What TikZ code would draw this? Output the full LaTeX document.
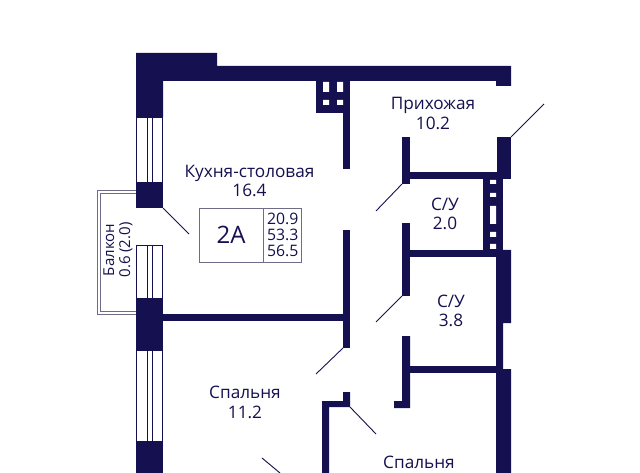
\documentclass[tikz,border=0pt]{standalone}
\usepackage{fontspec}
\usetikzlibrary{positioning}
\setmainfont{Open Sans}
\definecolor{navy}{HTML}{15104F}
\definecolor{frame}{HTML}{6E6C88}
\tikzset{
  wall/.style={fill=navy,draw=none},
  pane/.style={draw=navy,line width=0.9pt,fill=white},
  door/.style={draw=navy,line width=0.9pt},
  thin frame/.style={draw=frame,line width=0.7pt},
  room/.style={text=navy,font=\fontsize{17.2}{19.5}\selectfont,align=center,inner sep=0pt},
  data/.style={text=navy,font=\fontsize{15.8}{16}\selectfont,align=center,inner sep=0pt}
}
\begin{document}
\begin{tikzpicture}[x=1pt,y=-1pt]
    \useasboundingbox[fill=white] (0,0) rectangle (640,473);

    % balcony
    \draw[thin frame] (136,190) -- (97,190) -- (97,314) -- (136,314);
    \draw[thin frame] (136,193) -- (100.5,193) -- (100.5,311) -- (136,311);

    % windows
    \draw[pane] (136.5,117) rectangle (162.5,182);
    \draw[pane] (147.5,117) -- (147.5,182) (152,117) -- (152,182);
    \draw[pane] (136.5,245.5) rectangle (162.5,298);
    \draw[pane] (147.5,245.5) -- (147.5,298) (152,245.5) -- (152,298);
    \draw[pane] (136.5,350) rectangle (162.5,441);
    \draw[pane] (147.5,350) -- (147.5,441) (152,350) -- (152,441);

    % outer walls
    \fill[wall] (136,53) -- (217,53) -- (217,66) -- (511,66) -- (511,86) -- (496,86)
      -- (496,81) -- (163,81) -- (163,117) -- (136,117) -- cycle;
    \fill[wall] (136,182) rectangle (163,208);
    \fill[wall] (136,298) rectangle (163,351);
    \fill[wall] (136,441) rectangle (163,473);
    \fill[wall] (497,137) rectangle (511,179);
    \fill[wall] (496,250) -- (511,250) -- (511,323) -- (503,323) -- (503,369) -- (511,369)
      -- (511,473) -- (496,473) -- cycle;

    % inner walls
    \fill[wall] (316,81) rectangle (350,113);
    \fill[wall] (343,113) rectangle (350,169);
    \fill[white] (323,82) rectangle (329,92) (337,82) rectangle (343,92)
      (323,100) rectangle (329,105) (337,100) rectangle (343,105);
    \fill[wall] (343,230) rectangle (350,348);
    \fill[wall] (163,314) rectangle (343,321);
    \fill[wall] (343,392) -- (350,392) -- (350,407) -- (329,407) -- (329,473) -- (322,473)
      -- (322,401) -- (343,401) -- cycle;
    \fill[wall] (402,137) rectangle (410,184);
    \fill[wall] (410,172) rectangle (497,179);
    \fill[wall] (402,223) rectangle (410,296);
    \fill[wall] (410,250) rectangle (496,257);
    \fill[wall] (402,336) -- (410,336) -- (410,408) -- (394,408) -- (394,401) -- (402,401) -- cycle;
    \fill[wall] (410,366) rectangle (496,373);

    % shaft
    \fill[wall] (483,179) rectangle (503,250);
    \fill[white] (490,180) rectangle (496,184) (490,193) rectangle (496,197)
      (490,206) rectangle (496,224) (490,232) rectangle (496,237) (490,244) rectangle (496,249);

    % doors
    \coordinate (d1a) at (163,208);
    \coordinate (d1b) at (189,234);
    \coordinate (d2a) at (511,137);
    \coordinate (d2b) at (544,104);
    \coordinate (d3a) at (402,184);
    \coordinate (d3b) at (376,211);
    \coordinate (d4a) at (402,296);
    \coordinate (d4b) at (376,322);
    \coordinate (d5a) at (343,348);
    \coordinate (d5b) at (316,374);
    \coordinate (d6a) at (350,407);
    \coordinate (d6b) at (376,434);
    \coordinate (d7a) at (262,458);
    \coordinate (d7b) at (280,473);
    \draw[door] (d1a) -- (d1b);
    \draw[door] (d2a) -- (d2b);
    \draw[door] (d3a) -- (d3b);
    \draw[door] (d4a) -- (d4b);
    \draw[door] (d5a) -- (d5b);
    \draw[door] (d6a) -- (d6b);
    \draw[door] (d7a) -- (d7b);

    % rooms
    \node[room] (kitchen) at (249.5,181) {Кухня-столовая\\16.4};
    \node[room] (hall) at (433,113.5) {Прихожая\\10.2};
    \node[room] (bath) at (445,214) {С/У\\2.0};
    \node[room] (wc) at (451,311) {С/У\\3.8};
    \node[room] (bed) at (245,402.5) {Спальня\\11.2};
    \node[room,anchor=north] (bed2) at (419,456) {Спальня};
    \node[data,rotate=90,font=\fontsize{15}{16}\selectfont] (balcony) at (118,250) {Балкон\\0.6 (2.0)};

    % info box
    \node[thin frame,draw,minimum width=64pt,minimum height=54pt,inner sep=0pt,text=navy,
      font=\fontsize{24}{24}\selectfont] (type) at (231,235) {2А};
    \node[thin frame,draw,minimum width=38pt,minimum height=54pt,inner sep=0pt,right=0pt of type,
      data] (areas) {20.9\\53.3\\56.5};
\end{tikzpicture}
\end{document}
